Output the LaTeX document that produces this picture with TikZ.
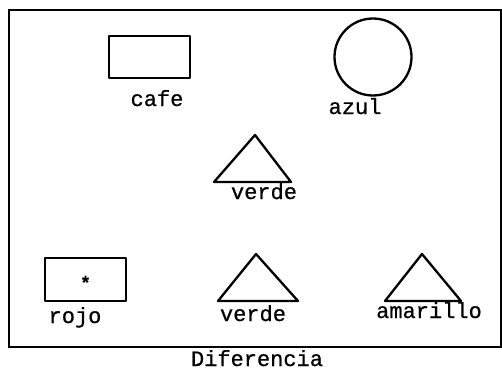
\documentclass[tikz,border=0pt]{standalone}
\usepackage{fontspec}
\setmonofont[FakeBold=0.6]{Liberation Mono}
\usetikzlibrary{positioning}

\begin{document}
\begin{tikzpicture}[
	x=1pt, y=-1pt,
	figline/.style={line width=2.3pt, black, line join=round},
	color label/.style={font=\ttfamily\fontsize{22}{24}\selectfont, inner sep=0pt, anchor=base},
	frameline/.style={line width=1.4pt, black},
	]
	\useasboundingbox (0,0) rectangle (502,369);
	
	% frame
	\draw[frameline] (9,10) rectangle (501,347);
	
	% top row
	\node[figline, draw, minimum width=81pt, minimum height=42pt] (cafebox) at (149.5,57) {};
	\node[color label] (cafe) at (157,106) {cafe};
	
	\node[figline, draw, circle, minimum size=77pt] (azulcircle) at (373,57) {};
	\node[color label] (azul) at (355,114) {azul};
	
	% middle triangle
	\coordinate (midtop) at (255,135);
	\coordinate (midleft) at (214,182);
	\coordinate (midright) at (291,182);
	\draw[figline] (midtop) -- (midright) -- (midleft) -- cycle;
	\node[color label] (verdemid) at (264,199) {verde};
	
	% bottom row
	\node[figline, draw, minimum width=81pt, minimum height=43pt] (rojobox) at (85.5,279.5) {};
	\node[font=\ttfamily\bfseries\fontsize{18}{18}\selectfont, inner sep=0pt] (star) at ([yshift=-3pt]rojobox.center) {*};
	\node[color label] (rojo) at (75,323) {rojo};
	
	\coordinate (lowtop) at (256,254);
	\coordinate (lowleft) at (218,301);
	\coordinate (lowright) at (298,301);
	\draw[figline] (lowtop) -- (lowright) -- (lowleft) -- cycle;
	\node[color label] (verdelow) at (253,321) {verde};
	
	\coordinate (amtop) at (422,254);
	\coordinate (amleft) at (385,301);
	\coordinate (amright) at (461,301);
	\draw[figline] (amtop) -- (amright) -- (amleft) -- cycle;
	\node[color label] (amarillo) at (429,318) {amarillo};
	
	% caption
	\node[color label] (caption) at (257,366) {Diferencia};
	
\end{tikzpicture}
\end{document}
